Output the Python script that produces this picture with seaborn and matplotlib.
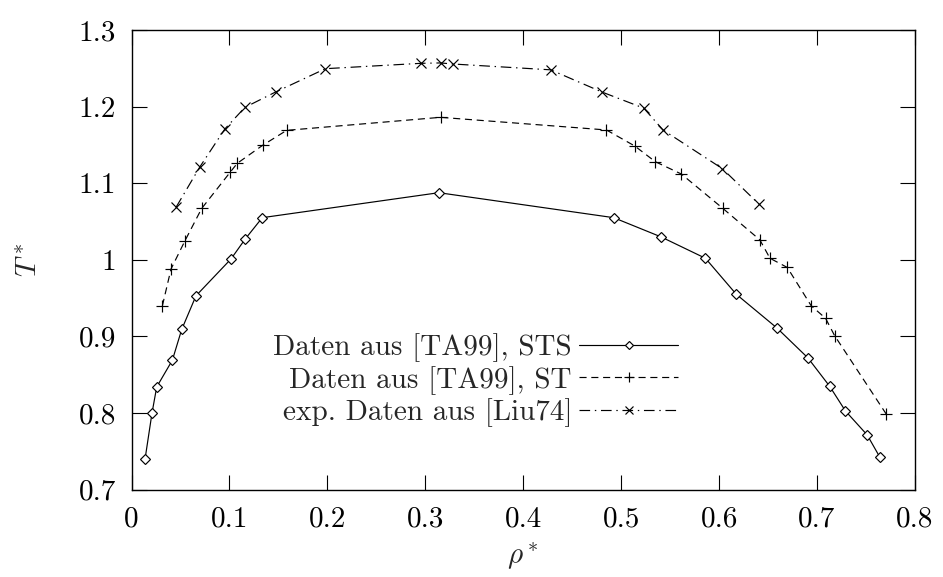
import numpy as np
import pandas as pd
import matplotlib
matplotlib.use("Agg")
import matplotlib.pyplot as plt
import seaborn as sns

# ---- data ----
sts_rho = [0.0138, 0.0209, 0.0257, 0.0417, 0.0512, 0.0658, 0.1015, 0.1160, 0.1335,
           0.3138, 0.4923, 0.5405, 0.5860, 0.6175, 0.6590, 0.6906, 0.7128, 0.7290,
           0.7512, 0.7638]
sts_T = [0.740, 0.800, 0.834, 0.869, 0.909, 0.953, 1.001, 1.027, 1.055,
         1.0876, 1.055, 1.030, 1.002, 0.955, 0.911, 0.872, 0.835, 0.8026,
         0.7713, 0.743]

st_rho = [0.0315, 0.0403, 0.0546, 0.0716, 0.1005, 0.1080, 0.1339, 0.1584, 0.3155,
          0.4849, 0.5138, 0.5349, 0.5614, 0.6039, 0.6416, 0.6519, 0.6696, 0.6940,
          0.7087, 0.7179, 0.7706]
st_T = [0.940, 0.988, 1.025, 1.067, 1.114, 1.126, 1.1495, 1.169, 1.186,
        1.1695, 1.1486, 1.128, 1.112, 1.067, 1.026, 1.002, 0.990, 0.940,
        0.9236, 0.901, 0.7987]

liu_rho = [0.0454, 0.0699, 0.0954, 0.1158, 0.1470, 0.1980, 0.2954, 0.3155, 0.3284,
           0.4280, 0.4804, 0.5230, 0.5427, 0.6033, 0.6406]
liu_T = [1.0685, 1.1216, 1.171, 1.199, 1.219, 1.2495, 1.2565, 1.257, 1.2556,
         1.248, 1.219, 1.198, 1.1695, 1.119, 1.0728]

labels = ["Daten aus [TA99], STS", "Daten aus [TA99], ST", "exp. Daten aus [Liu74]"]

x_ticks = [0, 0.1, 0.2, 0.3, 0.4, 0.5, 0.6, 0.7, 0.8]
x_ticklabels = ["0", "0.1", "0.2", "0.3", "0.4", "0.5", "0.6", "0.7", "0.8"]
y_ticks = [0.7, 0.8, 0.9, 1.0, 1.1, 1.2, 1.3]
y_ticklabels = ["0.7", "0.8", "0.9", "1", "1.1", "1.2", "1.3"]

# ---- style ----
sns.set_theme(style="ticks")
plt.rcParams["font.family"] = ["cmr10", "DejaVu Serif"]
plt.rcParams["mathtext.fontset"] = "cm"
plt.rcParams["axes.formatter.use_mathtext"] = True
plt.rcParams["axes.edgecolor"] = "black"
plt.rcParams["axes.linewidth"] = 1.0

FS = 21

fig = plt.figure(figsize=(9.43, 5.77), dpi=100)
ax = fig.add_axes([0.1395, 0.1515, 0.9703 - 0.1395, 0.948 - 0.1515])

df_sts = pd.DataFrame({"rho": sts_rho, "T": sts_T})
df_st = pd.DataFrame({"rho": st_rho, "T": st_T})
df_liu = pd.DataFrame({"rho": liu_rho, "T": liu_T})

lw = 0.85
sns.lineplot(data=df_sts, x="rho", y="T", ax=ax, color="black", lw=lw,
             marker="D", markersize=5.2, markerfacecolor="white",
             markeredgecolor="black", markeredgewidth=0.85,
             estimator=None, sort=False, label=labels[0])
sns.lineplot(data=df_st, x="rho", y="T", ax=ax, color="black", lw=lw,
             marker="+", markersize=9, markeredgewidth=0.85,
             markeredgecolor="black",
             estimator=None, sort=False, label=labels[1])
sns.lineplot(data=df_liu, x="rho", y="T", ax=ax, color="black", lw=lw,
             marker="x", markersize=7, markeredgewidth=0.85,
             markeredgecolor="black",
             estimator=None, sort=False, label=labels[2])
lines = ax.get_lines()
lines[1].set_dashes((6, 4))
lines[2].set_dashes((9, 4, 1.2, 4))

ax.set_xlim(0, 0.8)
ax.set_ylim(0.7, 1.3)
ax.set_xticks(x_ticks)
ax.set_xticklabels(x_ticklabels)
ax.set_yticks(y_ticks)
ax.set_yticklabels(y_ticklabels)
ax.tick_params(direction="in", length=11, width=0.8, top=True, right=True,
               labelsize=FS, pad=11, colors="black")
ax.tick_params(axis="x", pad=12)
for s in ax.spines.values():
    s.set_visible(True)
    s.set_color("black")

ax.set_xlabel(r"$\rho^*$", fontsize=FS, labelpad=6)
ax.set_ylabel(r"$T^*$", fontsize=FS, labelpad=26)

leg = ax.legend(loc="center right", bbox_to_anchor=(0.698, 0.238),
                markerfirst=False, frameon=False, fontsize=FS,
                handlelength=3.4, handletextpad=0.25, labelspacing=0.12,
                borderpad=0, borderaxespad=0, markerscale=0.8)
# right-align legend entries (gnuplot style)
try:
    for col in leg._legend_handle_box.get_children():
        col.align = "right"
except Exception:
    pass

fig.savefig("out.png", dpi=100)
